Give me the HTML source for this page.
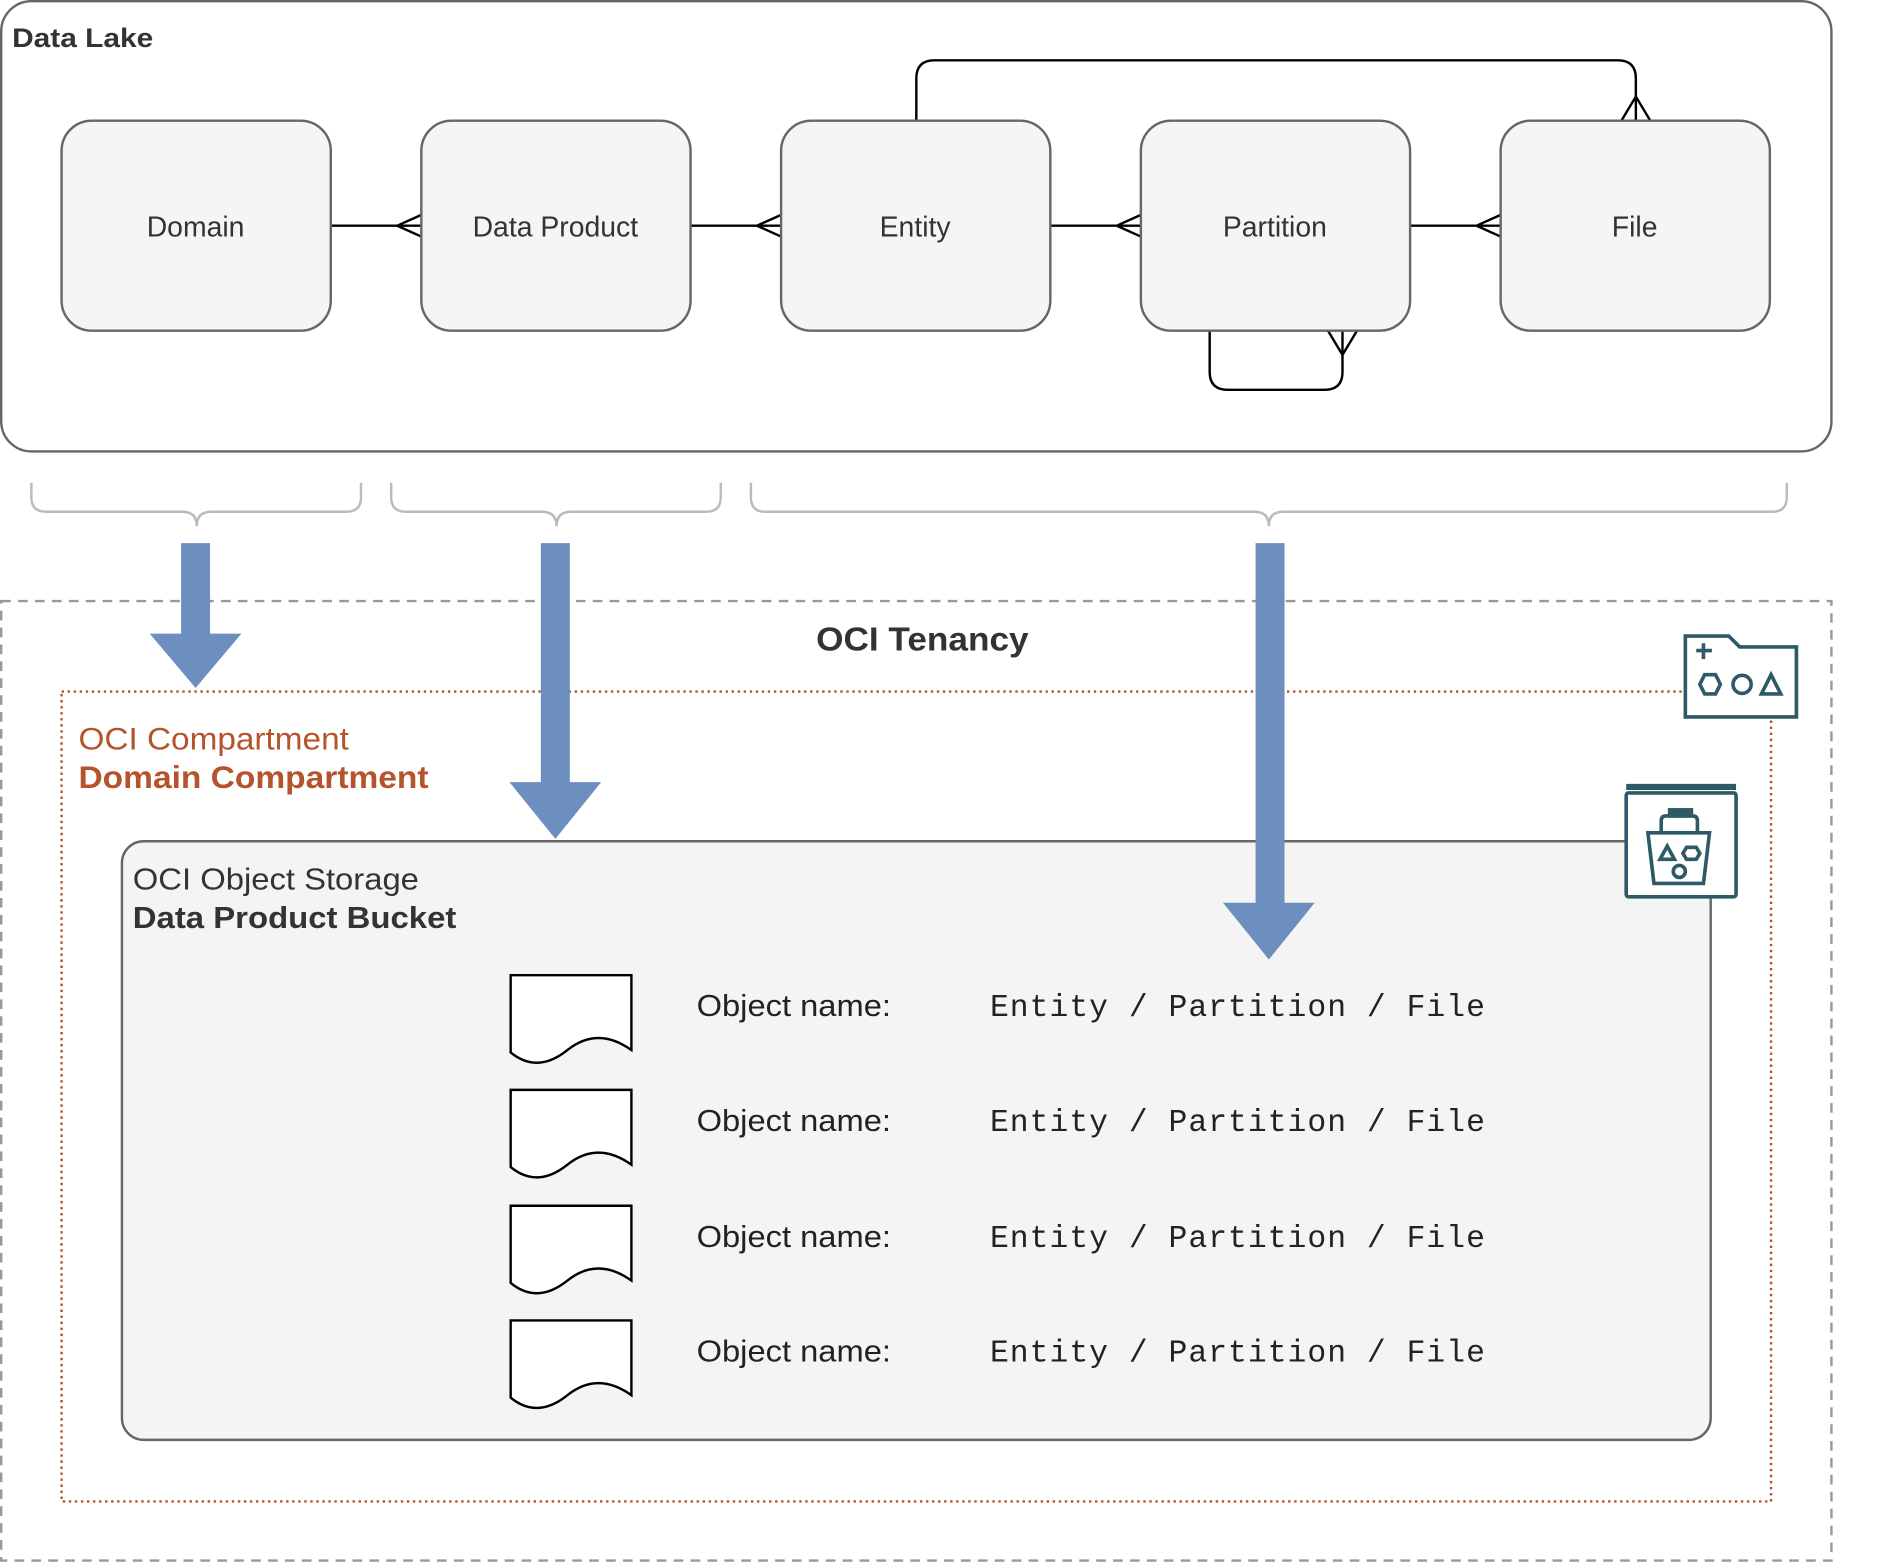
<!DOCTYPE html>
<html><head><meta charset="utf-8"><style>html,body{margin:0;padding:0;background:#fff}svg{display:block}</style></head>
<body>
<svg width="1893" height="1563" viewBox="0 0 1568 1295" preserveAspectRatio="none" xmlns="http://www.w3.org/2000/svg" font-family="Liberation Sans, sans-serif">
<rect x="1" y="1" width="1516" height="373" rx="25" fill="#fff" stroke="#666" stroke-width="2"/>
<text x="10" y="39" font-size="22" font-weight="bold" fill="#333" textLength="117" lengthAdjust="spacingAndGlyphs">Data Lake</text>
<g fill="none" stroke="#000" stroke-width="2">
<path d="M759 100 V65 Q759 50 774 50 H1340 Q1355 50 1355 65 V100"/>
<path d="M1343 100 L1355 80 L1367 100"/>
<path d="M1002 274 V308 Q1002 323 1017 323 H1097 Q1112 323 1112 308 V274"/>
<path d="M1100 274 L1112 294 L1124 274"/>
<path d="M274 187 H349 M349 178 L329 187 L349 196"/>
<path d="M572 187 H647 M647 178 L627 187 L647 196"/>
<path d="M870 187 H945 M945 178 L925 187 L945 196"/>
<path d="M1168 187 H1243 M1243 178 L1223 187 L1243 196"/>
</g>
<g fill="#f5f5f5" stroke="#666" stroke-width="2">
<rect x="51" y="100" width="223" height="174" rx="25"/>
<rect x="349" y="100" width="223" height="174" rx="25"/>
<rect x="647" y="100" width="223" height="174" rx="25"/>
<rect x="945" y="100" width="223" height="174" rx="25"/>
<rect x="1243" y="100" width="223" height="174" rx="25"/>
</g>
<g font-size="23.5" fill="#333" text-anchor="middle">
<text x="162" y="196">Domain</text>
<text x="460" y="196">Data Product</text>
<text x="758" y="196">Entity</text>
<text x="1056" y="196">Partition</text>
<text x="1354" y="196">File</text>
</g>
<g fill="none" stroke="#bbb" stroke-width="2">
<path d="M26 400 V412 Q26 424 38 424 H151 Q163 424 163 436 Q163 424 175 424 H287 Q299 424 299 412 V400"/>
<path d="M324 400 V412 Q324 424 336 424 H449 Q461 424 461 436 Q461 424 473 424 H585 Q597 424 597 412 V400"/>
<path d="M622 400 V412 Q622 424 634 424 H1039 Q1051 424 1051 436 Q1051 424 1063 424 H1468 Q1480 424 1480 412 V400"/>
</g>
<rect x="1" y="498" width="1516" height="795" fill="none" stroke="#999" stroke-width="2" stroke-dasharray="8 6"/>
<text x="676" y="539" font-size="28" font-weight="bold" fill="#333" textLength="176" lengthAdjust="spacingAndGlyphs">OCI Tenancy</text>
<rect x="51" y="573" width="1416" height="671" fill="none" stroke="#b5532b" stroke-width="2" stroke-dasharray="2 3"/>
<text x="65" y="621" font-size="26" fill="#b5532b" textLength="224" lengthAdjust="spacingAndGlyphs">OCI Compartment</text>
<text x="65" y="653" font-size="26" font-weight="bold" fill="#b5532b" textLength="290" lengthAdjust="spacingAndGlyphs">Domain Compartment</text>
<rect x="101" y="697" width="1316" height="496" rx="18" fill="#f4f4f4" stroke="#666" stroke-width="2"/>
<text x="110" y="737" font-size="25" fill="#333" textLength="237" lengthAdjust="spacingAndGlyphs">OCI Object Storage</text>
<text x="110" y="769" font-size="25" font-weight="bold" fill="#333" textLength="268" lengthAdjust="spacingAndGlyphs">Data Product Bucket</text>
<g fill="#fff" stroke="#000" stroke-width="2">
<path d="M423 808 H523 V870 Q495 850 470 870 T423 872 Z"/>
<path d="M423 903 H523 V965 Q495 945 470 965 T423 967 Z"/>
<path d="M423 999 H523 V1061 Q495 1041 470 1061 T423 1063 Z"/>
<path d="M423 1094 H523 V1156 Q495 1136 470 1156 T423 1158 Z"/>
</g>
<g font-size="25" fill="#222">
<text x="577" y="842" textLength="161" lengthAdjust="spacingAndGlyphs">Object name:</text>
<text x="577" y="937" textLength="161" lengthAdjust="spacingAndGlyphs">Object name:</text>
<text x="577" y="1033" textLength="161" lengthAdjust="spacingAndGlyphs">Object name:</text>
<text x="577" y="1128" textLength="161" lengthAdjust="spacingAndGlyphs">Object name:</text>
</g>
<g font-size="26" fill="#222" font-family="Liberation Mono, monospace">
<text x="820" y="842" textLength="410">Entity / Partition / File</text>
<text x="820" y="937" textLength="410">Entity / Partition / File</text>
<text x="820" y="1033" textLength="410">Entity / Partition / File</text>
<text x="820" y="1128" textLength="410">Entity / Partition / File</text>
</g>
<g fill="#6d8fc0">
<path d="M150 450 H174 V525 H200 L162 570 L124 525 H150 Z"/>
<path d="M448 450 H472 V648 H498 L460 695 L422 648 H448 Z"/>
<path d="M1040 450 H1064 V748 H1089 L1051 795 L1013 748 H1040 Z"/>
</g>
<g fill="#fff" stroke="#2e5a68" stroke-width="3">
<path d="M1396 527 H1432 L1441 536 H1488 V594 H1396 Z"/>
<path d="M1405 539 H1418 M1411 533 V546" stroke-width="3"/>
<path d="M1412 559 H1421 L1425 567 L1421 575 H1412 L1408 567 Z"/>
<circle cx="1443" cy="567" r="7.5"/>
<path d="M1467 559 L1475 575 H1459 Z"/>
</g>
<g fill="#fff" stroke="#2e5a68" stroke-width="3">
<rect x="1347" y="657" width="91" height="86" rx="2"/>
<path d="M1347 652 H1438" stroke-width="5"/>
<path d="M1365 690 H1416 L1411 732 H1370 Z"/>
<path d="M1376 690 V680 Q1376 676 1380 676 H1402 Q1406 676 1406 680 V690" fill="none"/>
<rect x="1383" y="671" width="18" height="5" fill="#2e5a68"/>
<path d="M1381 701 L1387 712 H1375 Z"/>
<path d="M1397 702 H1405 L1408 707 L1405 712 H1397 L1394 707 Z"/>
<circle cx="1391" cy="722" r="5"/>
</g>
</svg>
</body></html>
